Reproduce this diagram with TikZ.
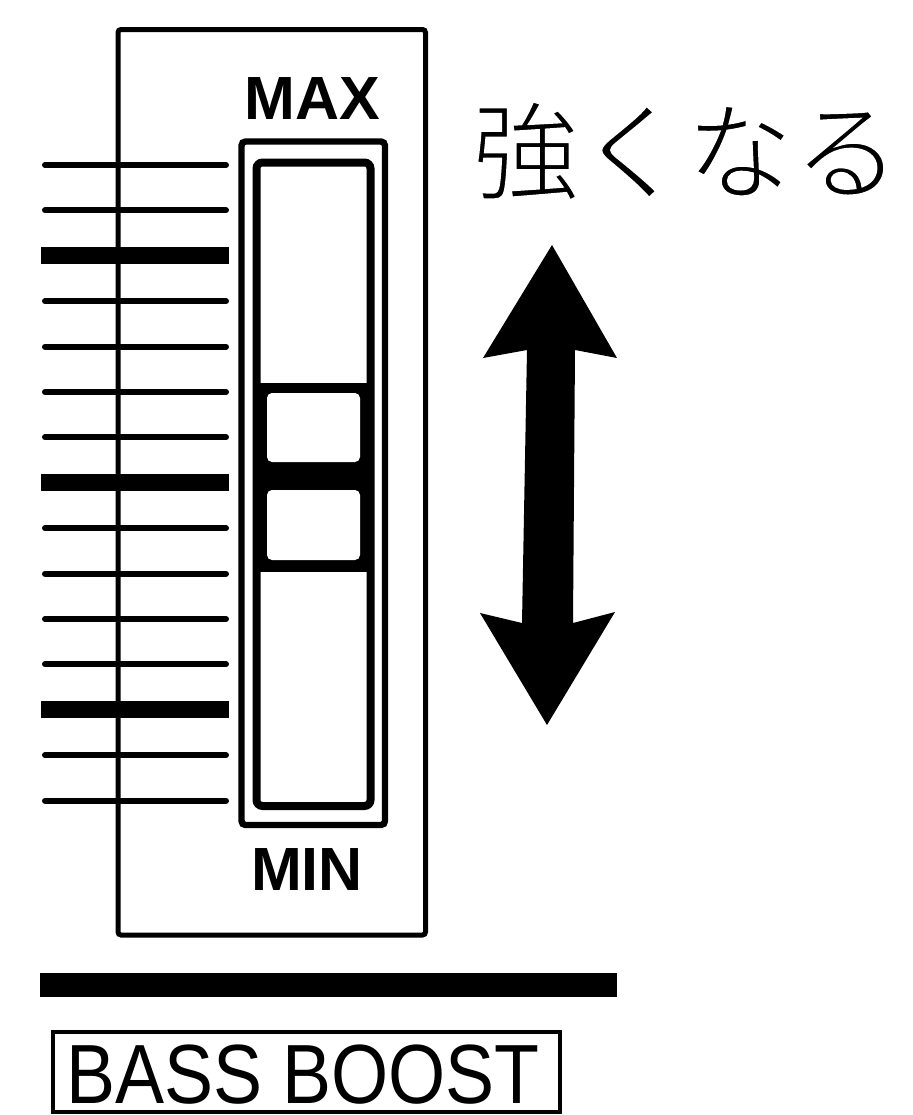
\documentclass[tikz,border=0pt]{standalone}
\usepackage{fontspec}
\newfontfamily\labelfont{Liberation Sans}
\newfontfamily\boostfont[FakeStretch=0.875]{Liberation Sans}
\newfontfamily\cjk{Noto Sans CJK JP}
% light glyphs: fill, then trim the outline with a white stroke
\newcommand\lightglyphs{\special{pdf:literal direct 2 Tr 1 1 1 RG 1.4 w}}
\begin{document}
\begin{tikzpicture}[x=0.5pt,y=-0.5pt,
  panel/.style={line width=2.5pt, rounded corners=1.5pt},
  outerframe/.style={line width=3.2pt, rounded corners=2pt},
  innerframe/.style={line width=4pt, rounded corners=3pt},
  thintick/.style={line width=3pt, line cap=round},
  thicktick/.style={line width=8.5pt},
  knobwin/.style={fill=white, rounded corners=2.5pt},
  rangetxt/.style={font=\labelfont\bfseries\fontsize{30.5}{34}\selectfont, inner sep=0pt},
  bigarrow/.style={fill=black, line join=round}]
\useasboundingbox (0,0) rectangle (912,1115);

% scale ticks to the left of the panel, every fifth one heavy
\foreach \k in {0,...,14}{
  \pgfmathsetmacro{\yy}{165+\k*45.4}
  \pgfmathtruncatemacro{\m}{mod(\k,5)}
  \ifnum\m=2
    \draw[thicktick] (41,\yy) -- (229,\yy);
  \else
    \draw[thintick] (45,\yy) -- (226,\yy);
  \fi
}

% panel outline
\draw[panel] (118,29.5) rectangle (425.5,935);

% slider slot: outer and inner frames
\draw[outerframe] (241.5,141.5) rectangle (385,825);
\draw[innerframe] (256.5,162.5) rectangle (370.5,806);

% slider knob with its two windows
\fill[black] (253,383) rectangle (374,572);
\fill[knobwin] (267,393) rectangle (360,462);
\fill[knobwin] (267,490) rectangle (360,560);

% range labels
\node[rangetxt] (max) at (312,98.5) {MAX};
\node[rangetxt] (min) at (307,870) {MIN};

% direction label and double arrow
\node[font=\cjk\fontsize{53.5}{60}\selectfont, inner sep=0pt] (stronger) at (686,151) {\lightglyphs 強くなる};
\fill[bigarrow] (552,245) -- (617,358) -- (575,350) -- (573,623) -- (615,612)
  -- (547,725) -- (480,613) -- (522,623) -- (527,350) -- (483,358) -- cycle;

% separator bar
\fill[black] (40,973) rectangle (617,997);

% function name plate
\node[draw, line width=2pt, minimum width=253.5pt, minimum height=40pt, inner sep=0pt] (plate) at (306.5,1072) {};
\node[font=\boostfont\fontsize{42}{46}\selectfont, inner sep=0pt] (boost) at (303,1075) {BASS BOOST};
\end{tikzpicture}
\end{document}
